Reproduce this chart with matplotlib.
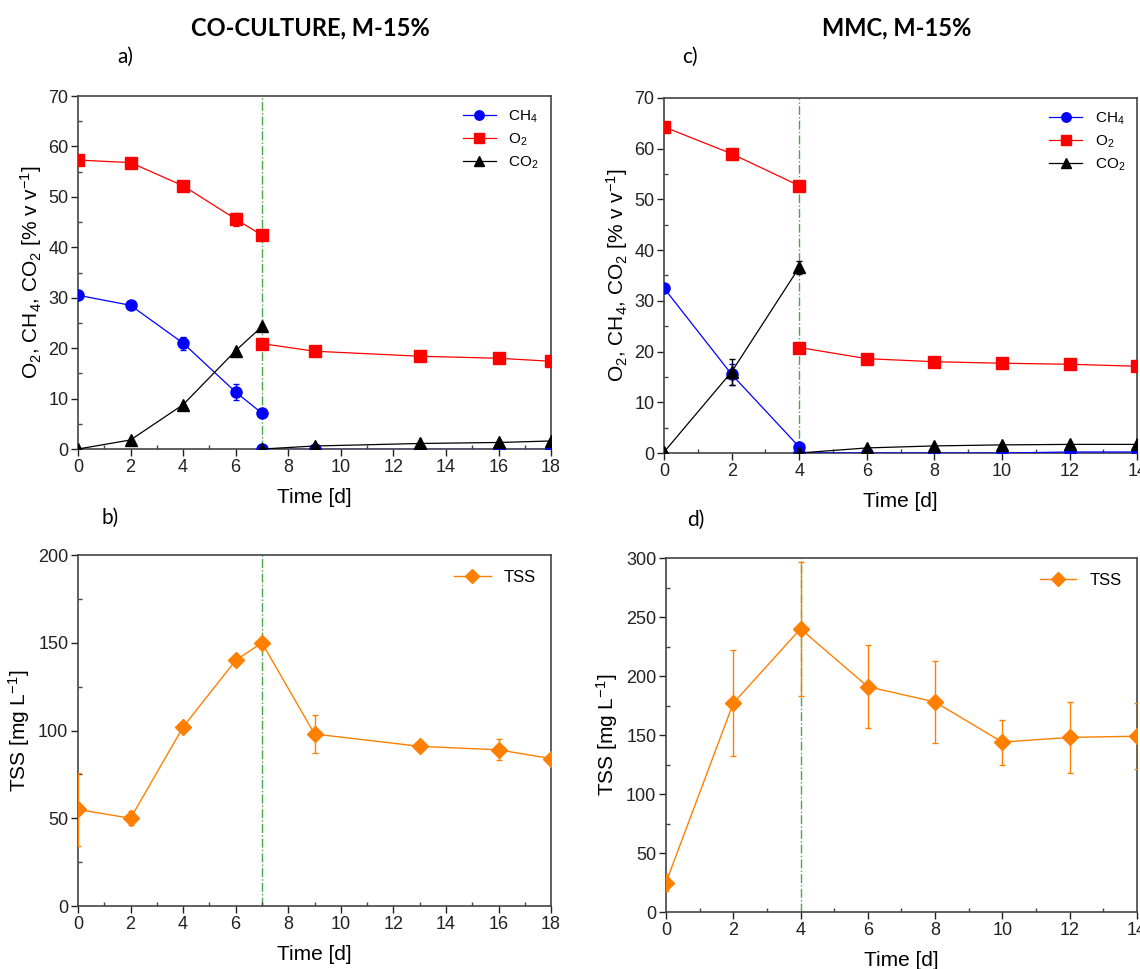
import numpy as np
import matplotlib
matplotlib.use("Agg")
import matplotlib.pyplot as plt
from matplotlib.ticker import MultipleLocator

plt.rcParams['font.family'] = ['Liberation Sans', 'DejaVu Sans']
plt.rcParams['mathtext.default'] = 'regular'

# ---- a) co-culture gas ----
a_x1 = [0, 2, 4, 6, 7]
a_x2 = [7, 9, 13, 16, 18]
a_ch4_1 = [30.5, 28.5, 21.0, 11.3, 7.1]
a_ch4_1_err = [0.4, 0.4, 1.3, 1.5, 0.4]
a_ch4_2 = [0, 0, 0, 0, 0]
a_o2_1 = [57.3, 56.8, 52.2, 45.6, 42.4]
a_o2_1_err = [0.3, 0.3, 0.8, 1.3, 0.4]
a_o2_2 = [20.9, 19.4, 18.4, 18.0, 17.4]
a_co2_1 = [0, 1.8, 8.8, 19.5, 24.3]
a_co2_2 = [0, 0.6, 1.1, 1.3, 1.6]

# ---- c) MMC gas ----
c_x1 = [0, 2, 4]
c_x2 = [4, 6, 8, 10, 12, 14]
c_ch4_1 = [32.5, 15.5, 1.2]
c_ch4_1_err = [0.4, 2.0, 0.3]
c_ch4_2 = [0, 0, 0, 0, 0.2, 0.2]
c_o2_1 = [64.3, 59.0, 52.7]
c_o2_2 = [20.8, 18.6, 18.0, 17.7, 17.5, 17.1]
c_co2_1 = [0.2, 16.0, 36.6]
c_co2_1_err = [0.2, 2.5, 1.3]
c_co2_2 = [0, 1.0, 1.4, 1.6, 1.7, 1.7]

# ---- b) co-culture TSS ----
b_x = [0, 2, 4, 6, 7, 9, 13, 16, 18]
b_tss = [55, 50, 102, 140, 150, 98, 91, 89, 84]
b_err = [21, 4, 2, 2, 2, 11, 2, 6, 2]

# ---- d) MMC TSS ----
d_x = [0, 2, 4, 6, 8, 10, 12, 14]
d_tss = [25, 177, 240, 191, 178, 144, 148, 149]
d_err = [7, 45, 57, 35, 35, 19, 30, 28]

BLUE = '#0000ff'
RED = '#ff0000'
ORANGE = '#ff8000'
GREEN = '#44aa44'
SPINE = '#444444'


def style_ax(ax, xmax, ymax, ystep):
    ax.set_xlim(0, xmax)
    ax.set_ylim(0, ymax)
    ax.xaxis.set_major_locator(MultipleLocator(2))
    ax.xaxis.set_minor_locator(MultipleLocator(1))
    ax.yaxis.set_major_locator(MultipleLocator(ystep))
    ax.yaxis.set_minor_locator(MultipleLocator(ystep / 2))
    ax.tick_params(which='major', direction='out', length=5, width=1,
                   labelsize=13, colors='#222222', pad=2)
    ax.tick_params(which='minor', direction='in', length=3, width=1, colors=SPINE)
    for s in ax.spines.values():
        s.set_color(SPINE)
        s.set_linewidth(1.2)
    ax.set_xlabel('Time [d]', fontsize=15, labelpad=9)


def gas_panel(ax, x1, x2, ch4_1, ch4_e, ch4_2, o2_1, o2_e, o2_2, co2_1, co2_e, co2_2,
              xmax, tline):
    ax.axvline(tline, color=GREEN, lw=1, ls='-.', zorder=1)
    e1 = ax.errorbar(x1, ch4_1, yerr=ch4_e, color=BLUE, marker='o', ms=8, lw=0.9,
                     capsize=2, elinewidth=1, zorder=3)
    ax.plot(x2, ch4_2, color=BLUE, marker='o', ms=8, lw=0.9, zorder=3)
    e2 = ax.errorbar(x1, o2_1, yerr=o2_e, color=RED, marker='s', ms=8, lw=0.9,
                     capsize=2, elinewidth=1, zorder=3)
    ax.plot(x2, o2_2, color=RED, marker='s', ms=8, lw=0.9, zorder=3)
    e3 = ax.errorbar(x1, co2_1, yerr=co2_e, color='black', marker='^', ms=9, lw=0.9,
                     capsize=2, elinewidth=1, zorder=4)
    ax.plot(x2, co2_2, color='black', marker='^', ms=9, lw=0.9, zorder=4)
    style_ax(ax, xmax, 70, 10)
    ax.set_ylabel('O$_2$, CH$_4$, CO$_2$ [% v v$^{-1}$]', fontsize=15, labelpad=3)
    ax.legend([e1.lines[0], e2.lines[0], e3.lines[0]], ['CH$_4$', 'O$_2$', 'CO$_2$'],
              loc='upper right', frameon=False, fontsize=11, handlelength=2.2,
              borderaxespad=0.4, labelspacing=0.45, markerscale=0.85)


def tss_panel(ax, x, y, e, xmax, ymax, tline):
    ax.axvline(tline, color=GREEN, lw=1, ls='-.', zorder=1)
    eb = ax.errorbar(x, y, yerr=e, color=ORANGE, marker='D', ms=8, lw=1,
                     capsize=2, elinewidth=1, zorder=3)
    style_ax(ax, xmax, ymax, 50)
    ax.set_ylabel('TSS [mg L$^{-1}$]', fontsize=15, labelpad=4)
    ax.legend([eb.lines[0]], ['TSS'], loc='upper right', frameon=False, fontsize=12,
              handlelength=2.2, borderaxespad=0.5, markerscale=0.85)


fig = plt.figure(figsize=(11.4, 9.69), dpi=100)
ax_a = fig.add_axes([0.0684, 0.5366, 0.415, 0.3643])
ax_c = fig.add_axes([0.5825, 0.5325, 0.415, 0.3664])
ax_b = fig.add_axes([0.0684, 0.0650, 0.415, 0.3622])
ax_d = fig.add_axes([0.5842, 0.0588, 0.413, 0.3653])

gas_panel(ax_a, a_x1, a_x2, a_ch4_1, a_ch4_1_err, a_ch4_2, a_o2_1, a_o2_1_err, a_o2_2,
          a_co2_1, None, a_co2_2, 18, 7)
gas_panel(ax_c, c_x1, c_x2, c_ch4_1, c_ch4_1_err, c_ch4_2, c_o2_1, None, c_o2_2,
          c_co2_1, c_co2_1_err, c_co2_2, 14, 4)
tss_panel(ax_b, b_x, b_tss, b_err, 18, 200, 7)
tss_panel(ax_d, d_x, d_tss, d_err, 14, 300, 4)

tfont = ['Lato', 'DejaVu Sans']
fig.text(0.272, 0.971, 'CO-CULTURE, M-15%', fontsize=17, fontweight='bold',
         ha='center', va='center', family=tfont)
fig.text(0.787, 0.971, 'MMC, M-15%', fontsize=17, fontweight='bold',
         ha='center', va='center', family=tfont)
fig.text(0.110, 0.941, 'a)', fontsize=15, ha='center', va='center', family=tfont)
fig.text(0.605, 0.941, 'c)', fontsize=15, ha='center', va='center', family=tfont)
fig.text(0.097, 0.466, 'b)', fontsize=15, ha='center', va='center', family=tfont)
fig.text(0.610, 0.463, 'd)', fontsize=15, ha='center', va='center', family=tfont)

fig.savefig('out.png', dpi=100)
